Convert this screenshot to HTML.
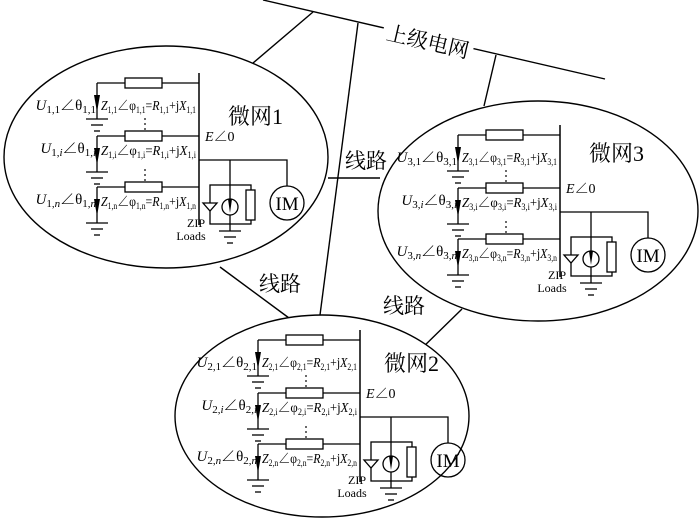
<!DOCTYPE html>
<html><head><meta charset="utf-8">
<style>
html,body{margin:0;padding:0;background:#fff;}
svg{display:block;}
text{font-family:"Liberation Serif","Noto Serif CJK SC",serif;fill:#000;}
.cn{font-family:"Liberation Serif","Noto Serif CJK SC","Noto Sans CJK SC",serif;}
</style></head>
<body>
<svg width="700" height="520" viewBox="0 0 700 520" xmlns="http://www.w3.org/2000/svg">
<defs>
<g id="gnd" stroke="#000" stroke-width="1.3">
<line x1="-11" y1="0" x2="11" y2="0"/>
<line x1="-6" y1="6" x2="6" y2="6"/>
<line x1="-3" y1="12" x2="3" y2="12"/>
</g>
<g id="br" fill="none" stroke="#000" stroke-width="1.3">
<line x1="97" y1="0" x2="199" y2="0"/>
<rect x="125" y="-5" width="37" height="10" fill="#fff"/>
<line x1="97" y1="0" x2="97" y2="36"/>
<polygon points="94,12 100,12 97,29" fill="#000" stroke="none"/>
<use href="#gnd" x="97" y="36"/>
</g>
<g id="mg">
<g stroke="#000" stroke-width="1.5" fill="none">
<line x1="199" y1="73" x2="199" y2="225"/>
</g>
<use href="#br" x="0" y="83"/>
<use href="#br" x="0" y="136"/>
<use href="#br" x="0" y="187"/>
<g fill="#000">
<circle cx="145" cy="119" r="0.9"/><circle cx="145" cy="124" r="0.9"/><circle cx="145" cy="129" r="0.9"/>
<circle cx="145" cy="170" r="0.9"/><circle cx="145" cy="175" r="0.9"/><circle cx="145" cy="180" r="0.9"/>
</g>
<g stroke="#000" stroke-width="1.3" fill="none">
<polyline points="199,160 287,160 287,186"/>
<circle cx="287" cy="203" r="17"/>
<line x1="230" y1="160" x2="230" y2="231"/>
<rect x="210" y="185" width="41" height="39"/>
<circle cx="230" cy="207" r="8" fill="#fff"/>
<polygon points="203,203 217,203 210,211" fill="#fff"/>
<rect x="246" y="190" width="9" height="30" fill="#fff"/>
<use href="#gnd" x="230" y="231"/>
</g>
<polygon points="228,199 232,199 230,213" fill="#000"/>
<text x="287" y="210" font-size="19" text-anchor="middle">IM</text>
<text x="205" y="141" font-size="14"><tspan font-style="italic">E</tspan>∠0</text>
<text x="196" y="227" font-size="12" text-anchor="middle">ZIP</text>
<text x="191" y="240" font-size="12" text-anchor="middle">Loads</text>
</g>
</defs>

<g stroke="#000" stroke-width="1.4" fill="none">
<line x1="263" y1="0" x2="605" y2="79"/>
<line x1="313" y1="12" x2="253" y2="63"/>
<line x1="358" y1="23" x2="320" y2="315"/>
<line x1="496" y1="55" x2="484" y2="106"/>
<line x1="328" y1="178" x2="380" y2="178"/>
<line x1="220" y1="267" x2="289" y2="318"/>
<line x1="462" y1="309" x2="418" y2="352"/>
<ellipse cx="166" cy="157" rx="162" ry="111" fill="#fff"/>
<ellipse cx="538" cy="211" rx="160" ry="110" fill="#fff"/>
<ellipse cx="322" cy="416" rx="147" ry="101" fill="#fff"/>
</g>
<rect x="382" y="30" width="92" height="22" fill="#fff" transform="rotate(13 428 41)"/>
<text class="cn" x="428" y="49" font-size="21" text-anchor="middle" transform="rotate(13 428 41)">上级电网</text>
<text class="cn" x="345" y="168" font-size="21">线路</text>
<text class="cn" x="259" y="291" font-size="21">线路</text>
<text class="cn" x="383" y="313" font-size="21">线路</text>

<!-- MG1 -->
<use href="#mg"/>
<text class="cn" x="228" y="124" font-size="22">微网1</text>
<g font-size="15">
<text x="96" y="110" text-anchor="end"><tspan font-style="italic">U</tspan><tspan font-size="11" dy="3">1,1</tspan><tspan dy="-3">∠θ</tspan><tspan font-size="11" dy="3">1,1</tspan></text>
<text x="96" y="153" text-anchor="end"><tspan font-style="italic">U</tspan><tspan font-size="11" dy="3">1,<tspan font-style="italic">i</tspan></tspan><tspan dy="-3">∠θ</tspan><tspan font-size="11" dy="3">1,<tspan font-style="italic">i</tspan></tspan></text>
<text x="96" y="204" text-anchor="end"><tspan font-style="italic">U</tspan><tspan font-size="11" dy="3">1,<tspan font-style="italic">n</tspan></tspan><tspan dy="-3">∠θ</tspan><tspan font-size="11" dy="3">1,<tspan font-style="italic">n</tspan></tspan></text>
</g>
<g font-size="14">
<text x="101" y="110" textLength="95" lengthAdjust="spacingAndGlyphs"><tspan font-style="italic">Z</tspan><tspan font-size="9" dy="3">1,1</tspan><tspan dy="-3">∠φ</tspan><tspan font-size="9" dy="3">1,1</tspan><tspan dy="-3">=</tspan><tspan font-style="italic">R</tspan><tspan font-size="9" dy="3">1,1</tspan><tspan dy="-3">+j</tspan><tspan font-style="italic">X</tspan><tspan font-size="9" dy="3">1,1</tspan></text>
<text x="101" y="155" textLength="95" lengthAdjust="spacingAndGlyphs"><tspan font-style="italic">Z</tspan><tspan font-size="9" dy="3">1,i</tspan><tspan dy="-3">∠φ</tspan><tspan font-size="9" dy="3">1,i</tspan><tspan dy="-3">=</tspan><tspan font-style="italic">R</tspan><tspan font-size="9" dy="3">1,i</tspan><tspan dy="-3">+j</tspan><tspan font-style="italic">X</tspan><tspan font-size="9" dy="3">1,i</tspan></text>
<text x="101" y="206" textLength="95" lengthAdjust="spacingAndGlyphs"><tspan font-style="italic">Z</tspan><tspan font-size="9" dy="3">1,n</tspan><tspan dy="-3">∠φ</tspan><tspan font-size="9" dy="3">1,n</tspan><tspan dy="-3">=</tspan><tspan font-style="italic">R</tspan><tspan font-size="9" dy="3">1,n</tspan><tspan dy="-3">+j</tspan><tspan font-style="italic">X</tspan><tspan font-size="9" dy="3">1,n</tspan></text>
</g>

<!-- MG3 -->
<g transform="translate(361,52)">
<use href="#mg"/>
<text class="cn" x="228" y="109" font-size="22">微网3</text>
<g font-size="15">
<text x="96" y="110" text-anchor="end"><tspan font-style="italic">U</tspan><tspan font-size="11" dy="3">3,1</tspan><tspan dy="-3">∠θ</tspan><tspan font-size="11" dy="3">3,1</tspan></text>
<text x="96" y="153" text-anchor="end"><tspan font-style="italic">U</tspan><tspan font-size="11" dy="3">3,<tspan font-style="italic">i</tspan></tspan><tspan dy="-3">∠θ</tspan><tspan font-size="11" dy="3">3,<tspan font-style="italic">i</tspan></tspan></text>
<text x="96" y="204" text-anchor="end"><tspan font-style="italic">U</tspan><tspan font-size="11" dy="3">3,<tspan font-style="italic">n</tspan></tspan><tspan dy="-3">∠θ</tspan><tspan font-size="11" dy="3">3,<tspan font-style="italic">n</tspan></tspan></text>
</g>
<g font-size="14">
<text x="101" y="110" textLength="95" lengthAdjust="spacingAndGlyphs"><tspan font-style="italic">Z</tspan><tspan font-size="9" dy="3">3,1</tspan><tspan dy="-3">∠φ</tspan><tspan font-size="9" dy="3">3,1</tspan><tspan dy="-3">=</tspan><tspan font-style="italic">R</tspan><tspan font-size="9" dy="3">3,1</tspan><tspan dy="-3">+j</tspan><tspan font-style="italic">X</tspan><tspan font-size="9" dy="3">3,1</tspan></text>
<text x="101" y="155" textLength="95" lengthAdjust="spacingAndGlyphs"><tspan font-style="italic">Z</tspan><tspan font-size="9" dy="3">3,i</tspan><tspan dy="-3">∠φ</tspan><tspan font-size="9" dy="3">3,i</tspan><tspan dy="-3">=</tspan><tspan font-style="italic">R</tspan><tspan font-size="9" dy="3">3,i</tspan><tspan dy="-3">+j</tspan><tspan font-style="italic">X</tspan><tspan font-size="9" dy="3">3,i</tspan></text>
<text x="101" y="206" textLength="95" lengthAdjust="spacingAndGlyphs"><tspan font-style="italic">Z</tspan><tspan font-size="9" dy="3">3,n</tspan><tspan dy="-3">∠φ</tspan><tspan font-size="9" dy="3">3,n</tspan><tspan dy="-3">=</tspan><tspan font-style="italic">R</tspan><tspan font-size="9" dy="3">3,n</tspan><tspan dy="-3">+j</tspan><tspan font-style="italic">X</tspan><tspan font-size="9" dy="3">3,n</tspan></text>
</g>
</g>

<!-- MG2 -->
<g transform="translate(161,257)">
<use href="#mg"/>
<text class="cn" x="223" y="114" font-size="22">微网2</text>
<g font-size="15">
<text x="96" y="110" text-anchor="end"><tspan font-style="italic">U</tspan><tspan font-size="11" dy="3">2,1</tspan><tspan dy="-3">∠θ</tspan><tspan font-size="11" dy="3">2,1</tspan></text>
<text x="96" y="153" text-anchor="end"><tspan font-style="italic">U</tspan><tspan font-size="11" dy="3">2,<tspan font-style="italic">i</tspan></tspan><tspan dy="-3">∠θ</tspan><tspan font-size="11" dy="3">2,<tspan font-style="italic">i</tspan></tspan></text>
<text x="96" y="204" text-anchor="end"><tspan font-style="italic">U</tspan><tspan font-size="11" dy="3">2,<tspan font-style="italic">n</tspan></tspan><tspan dy="-3">∠θ</tspan><tspan font-size="11" dy="3">2,<tspan font-style="italic">n</tspan></tspan></text>
</g>
<g font-size="14">
<text x="101" y="110" textLength="95" lengthAdjust="spacingAndGlyphs"><tspan font-style="italic">Z</tspan><tspan font-size="9" dy="3">2,1</tspan><tspan dy="-3">∠φ</tspan><tspan font-size="9" dy="3">2,1</tspan><tspan dy="-3">=</tspan><tspan font-style="italic">R</tspan><tspan font-size="9" dy="3">2,1</tspan><tspan dy="-3">+j</tspan><tspan font-style="italic">X</tspan><tspan font-size="9" dy="3">2,1</tspan></text>
<text x="101" y="155" textLength="95" lengthAdjust="spacingAndGlyphs"><tspan font-style="italic">Z</tspan><tspan font-size="9" dy="3">2,i</tspan><tspan dy="-3">∠φ</tspan><tspan font-size="9" dy="3">2,i</tspan><tspan dy="-3">=</tspan><tspan font-style="italic">R</tspan><tspan font-size="9" dy="3">2,i</tspan><tspan dy="-3">+j</tspan><tspan font-style="italic">X</tspan><tspan font-size="9" dy="3">2,i</tspan></text>
<text x="101" y="206" textLength="95" lengthAdjust="spacingAndGlyphs"><tspan font-style="italic">Z</tspan><tspan font-size="9" dy="3">2,n</tspan><tspan dy="-3">∠φ</tspan><tspan font-size="9" dy="3">2,n</tspan><tspan dy="-3">=</tspan><tspan font-style="italic">R</tspan><tspan font-size="9" dy="3">2,n</tspan><tspan dy="-3">+j</tspan><tspan font-style="italic">X</tspan><tspan font-size="9" dy="3">2,n</tspan></text>
</g>
</g>
</svg>
</body></html>
